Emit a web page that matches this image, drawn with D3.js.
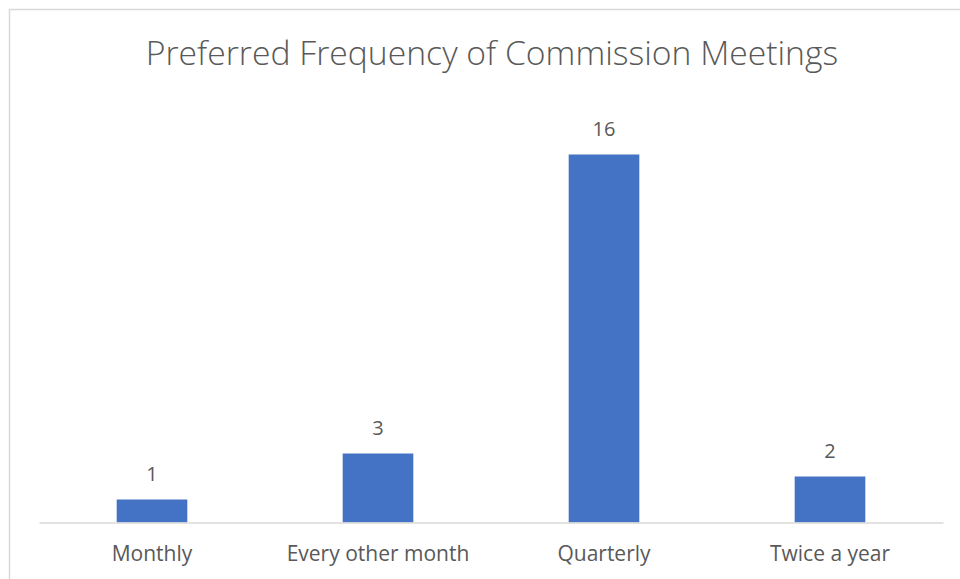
<!DOCTYPE html>
<html>
<head>
<meta charset="utf-8">
<script src="https://cdn.jsdelivr.net/npm/d3@7"></script>
<style>
  html, body { margin: 0; padding: 0; background: #ffffff; }
  svg { display: block; }
  text { font-family: "Open Sans", Lato, sans-serif; fill: #595959; }
</style>
</head>
<body>
<svg id="chart" width="960" height="579"></svg>
<script>
const categories = ["Monthly", "Every other month", "Quarterly", "Twice a year"];
const values = [1, 3, 16, 2];
const title = "Preferred Frequency of Commission Meetings";

const svg = d3.select("#chart");

// chart frame
svg.append("rect")
  .attr("x", 9.5).attr("y", 9.5)
  .attr("width", 966).attr("height", 600)
  .attr("fill", "#ffffff")
  .attr("stroke", "#d9d9d9")
  .attr("stroke-width", 1.5);

const plot = { left: 39, right: 943, top: 108.5, bottom: 522.5 };

const x = d3.scaleBand()
  .domain(categories)
  .range([plot.left, plot.right])
  .paddingInner(0.6875)
  .paddingOuter(0.6875 / 2);

const y = d3.scaleLinear()
  .domain([0, 18])
  .range([plot.bottom, plot.top]);

// title
svg.append("text")
  .attr("x", 492).attr("y", 65)
  .attr("text-anchor", "middle")
  .style("font-size", "33.7px")
  .style("font-weight", "300")
  .text(title);

// bars
svg.selectAll("rect.bar")
  .data(categories)
  .join("rect")
  .attr("class", "bar")
  .attr("x", d => x(d))
  .attr("width", x.bandwidth())
  .attr("y", (d, i) => y(values[i]))
  .attr("height", (d, i) => y(0) - y(values[i]))
  .attr("fill", "#4472c4");

// baseline axis
const axis = d3.axisBottom(x).tickSize(0).tickPadding(0);
const g = svg.append("g")
  .attr("transform", `translate(0,${plot.bottom})`)
  .call(axis);
g.select(".domain").attr("stroke", "#d9d9d9").attr("stroke-width", 1.5);
g.selectAll(".tick text")
  .attr("dy", null)
  .attr("y", 38)
  .style("font-family", "'Open Sans', Lato, sans-serif")
  .style("font-size", "21px")
  .attr("fill", "#595959");

// data labels
svg.selectAll("text.label")
  .data(categories)
  .join("text")
  .attr("class", "label")
  .attr("x", d => x(d) + x.bandwidth() / 2)
  .attr("y", (d, i) => y(values[i]) - 19)
  .attr("text-anchor", "middle")
  .style("font-size", "20px")
  .text((d, i) => values[i]);
</script>
</body>
</html>
